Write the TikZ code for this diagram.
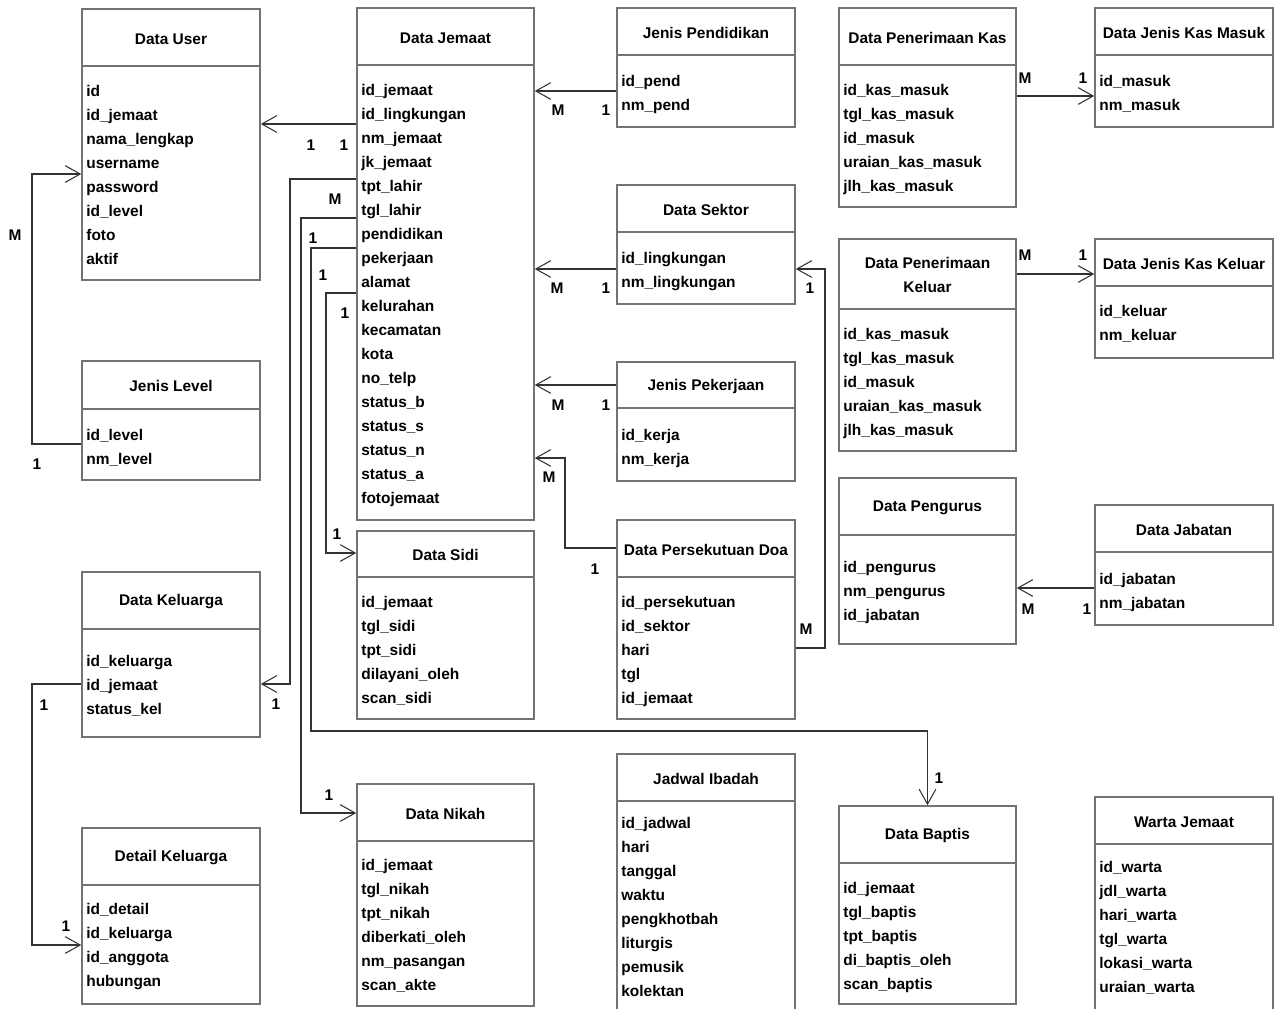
\documentclass[tikz,border=0pt]{standalone}
\usepackage{fontspec}
\setmainfont{Liberation Sans}
\usetikzlibrary{arrows.meta,fit,calc}
\tikzset{
  box/.style={draw=black!55, line width=0.9pt, inner sep=0pt, fill=white}, % entity frame
  title/.style={font=\fontsize{8.8}{13.6}\selectfont\bfseries, align=center, inner sep=0pt, yshift=-0.8pt},
  field/.style={font=\fontsize{8.8}{13.6}\selectfont\bfseries, anchor=west, inner sep=0pt, text height=6.5pt, text depth=1.8pt, yshift=-1.1pt},
  card/.style={font=\fontsize{8.8}{10}\selectfont\bfseries, inner sep=0pt},
  rel/.style={draw=black!80, line width=0.6pt, -{Straight Barb[length=8.5pt,width=9.5pt]}}
}
% entity: name, x1, y1, x2, y2, divider, title, first field, fields
\newcommand{\entity}[9]{
  \node[box, fit={(#2,#3) (#4,#5)}] (#1) {};
  \draw[black!55, line width=0.9pt] (#1.west |- 0,#6) -- (#1.east |- 0,#6);
  \node[title] (#1-t) at ({(#2+#4)/2},{(#3+#6)/2}) {#7};
  \foreach \fld [count=\i from 0] in {#9}
    \node[field] (#1-\i) at ({#2+4},{#8+24*\i}) {\fld};
}
\begin{document}
\begin{tikzpicture}[x=0.02cm, y=-0.02cm]
    \useasboundingbox (0,0) rectangle (1274,1008);

    % Entities
    \entity{user}{82}{9}{260}{280}{66}{Data User}{90}{id, id\_jemaat, nama\_lengkap, username, password, id\_level, foto, aktif}
    \entity{jemaat}{357}{8}{534}{520}{65}{Data Jemaat}{89}{id\_jemaat, id\_lingkungan, nm\_jemaat, jk\_jemaat, tpt\_lahir, tgl\_lahir, pendidikan, pekerjaan, alamat, kelurahan, kecamatan, kota, no\_telp, status\_b, status\_s, status\_n, status\_a, fotojemaat}
    \entity{pend}{617}{8}{795}{127}{55}{Jenis Pendidikan}{80}{id\_pend, nm\_pend}
    \entity{kas}{839}{8}{1016}{207}{65}{Data Penerimaan Kas}{89}{id\_kas\_masuk, tgl\_kas\_masuk, id\_masuk, uraian\_kas\_masuk, jlh\_kas\_masuk}
    \entity{masuk}{1095}{8}{1273}{127}{55}{Data Jenis Kas Masuk}{80}{id\_masuk, nm\_masuk}
    \entity{sektor}{617}{185}{795}{304}{232}{Data Sektor}{257}{id\_lingkungan, nm\_lingkungan}
    \entity{keluar}{839}{239}{1016}{451}{309}{Data Penerimaan\\Keluar}{333}{id\_kas\_masuk, tgl\_kas\_masuk, id\_masuk, uraian\_kas\_masuk, jlh\_kas\_masuk}
    \entity{jkeluar}{1095}{239}{1273}{358}{286}{Data Jenis Kas Keluar}{310}{id\_keluar, nm\_keluar}
    \entity{level}{82}{361}{260}{480}{409}{Jenis Level}{434}{id\_level, nm\_level}
    \entity{kerja}{617}{362}{795}{481}{408}{Jenis Pekerjaan}{434}{id\_kerja, nm\_kerja}
    \entity{pengurus}{839}{478}{1016}{644}{535}{Data Pengurus}{566}{id\_pengurus, nm\_pengurus, id\_jabatan}
    \entity{jabatan}{1095}{505}{1273}{625}{552}{Data Jabatan}{578}{id\_jabatan, nm\_jabatan}
    \entity{doa}{617}{520}{795}{719}{577}{Data Persekutuan Doa}{601}{id\_persekutuan, id\_sektor, hari, tgl, id\_jemaat}
    \entity{sidi}{357}{531}{534}{719}{577}{Data Sidi}{601}{id\_jemaat, tgl\_sidi, tpt\_sidi, dilayani\_oleh, scan\_sidi}
    \entity{keluarga}{82}{572}{260}{737}{629}{Data Keluarga}{660}{id\_keluarga, id\_jemaat, status\_kel}
    \entity{detail}{82}{828}{260}{1004}{885}{Detail Keluarga}{908}{id\_detail, id\_keluarga, id\_anggota, hubungan}
    \entity{nikah}{357}{784}{534}{1006}{841}{Data Nikah}{864}{id\_jemaat, tgl\_nikah, tpt\_nikah, diberkati\_oleh, nm\_pasangan, scan\_akte}
    \entity{jadwal}{617}{754}{795}{1016}{801}{Jadwal Ibadah}{822}{id\_jadwal, hari, tanggal, waktu, pengkhotbah, liturgis, pemusik, kolektan}
    \entity{baptis}{839}{806}{1016}{1004}{863}{Data Baptis}{887}{id\_jemaat, tgl\_baptis, tpt\_baptis, di\_baptis\_oleh, scan\_baptis}
    \entity{warta}{1095}{797}{1273}{1016}{844}{Warta Jemaat}{866}{id\_warta, jdl\_warta, hari\_warta, tgl\_warta, lokasi\_warta, uraian\_warta}

    % Relations
    \draw[rel] (jemaat.west |- 0,124) -- (user.east |- 0,124);
    \draw[rel] (level.west |- 0,444) -| (32,174) -- (user.west |- 0,174);
    \draw[rel] (pend.west |- 0,91) -- (jemaat.east |- 0,91);
    \draw[rel] (sektor.west |- 0,269) -- (jemaat.east |- 0,269);
    \draw[rel] (kerja.west |- 0,385) -- (jemaat.east |- 0,385);
    \draw[rel] (doa.west |- 0,548) -| (565,458) -- (jemaat.east |- 0,458);
    \draw[rel] (doa.east |- 0,648) -| (825,269) -- (sektor.east |- 0,269);
    \draw[rel] (jemaat.west |- 0,179) -| (290,684) -- (keluarga.east |- 0,684);
    \draw[rel] (jemaat.west |- 0,218) -| (301,813) -- (nikah.west |- 0,813);
    \draw[rel] (jemaat.west |- 0,248) -| (311,731) -| (baptis.north);
    \draw[rel] (jemaat.west |- 0,293) -| (326,553) -- (sidi.west |- 0,553);
    \draw[rel] (keluarga.west |- 0,684) -| (32,945) -- (detail.west |- 0,945);
    \draw[rel] (kas.east |- 0,96) -- (masuk.west |- 0,96);
    \draw[rel] (keluar.east |- 0,274) -- (jkeluar.west |- 0,274);
    \draw[rel] (jabatan.west |- 0,588) -- (pengurus.east |- 0,588);

    % Cardinalities
    \node[card] (uj-a) at (311,145) {1};
    \node[card] (uj-b) at (344,145) {1};
    \node[card] (lu-a) at (15,235) {M};
    \node[card] (lu-b) at (37,464) {1};
    \node[card] (pj-a) at (558,110) {M};
    \node[card] (pj-b) at (606,110) {1};
    \node[card] (sj-a) at (557,288) {M};
    \node[card] (sj-b) at (606,288) {1};
    \node[card] (kj-a) at (558,405) {M};
    \node[card] (kj-b) at (606,405) {1};
    \node[card] (dj-a) at (549,477) {M};
    \node[card] (dj-b) at (595,569) {1};
    \node[card] (ds-a) at (806,629) {M};
    \node[card] (ds-b) at (810,288) {1};
    \node[card] (jk-a) at (335,199) {M};
    \node[card] (jk-b) at (276,704) {1};
    \node[card] (jn-a) at (313,238) {1};
    \node[card] (jn-b) at (329,795) {1};
    \node[card] (jb-a) at (323,275) {1};
    \node[card] (jb-b) at (939,778) {1};
    \node[card] (js-a) at (345,313) {1};
    \node[card] (js-b) at (337,534) {1};
    \node[card] (kd-a) at (44,705) {1};
    \node[card] (kd-b) at (66,926) {1};
    \node[card] (km-a) at (1025,78) {M};
    \node[card] (km-b) at (1083,78) {1};
    \node[card] (kk-a) at (1025,255) {M};
    \node[card] (kk-b) at (1083,255) {1};
    \node[card] (pg-a) at (1028,609) {M};
    \node[card] (pg-b) at (1087,609) {1};

\end{tikzpicture}
\end{document}
